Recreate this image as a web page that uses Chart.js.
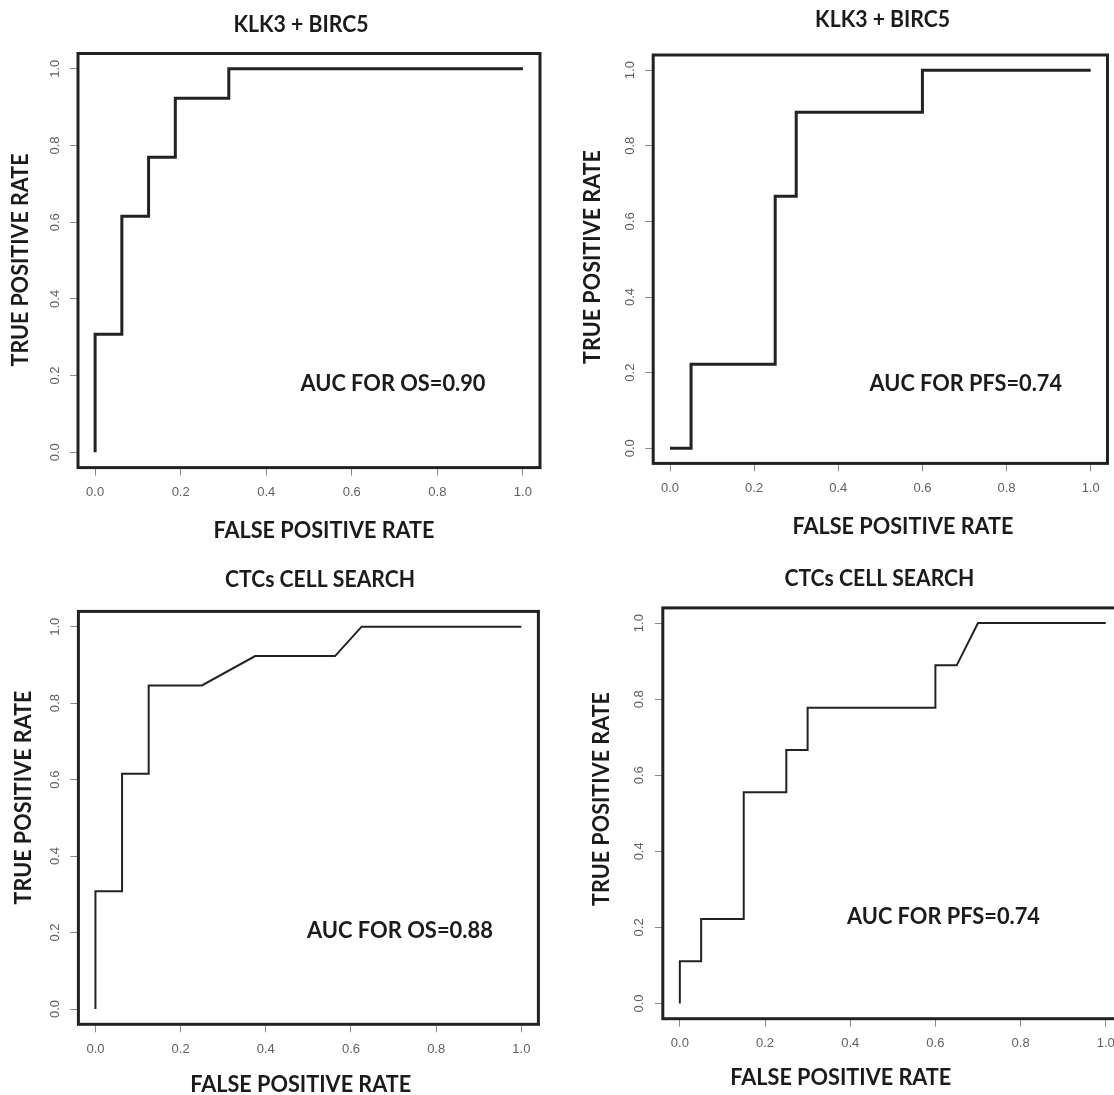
<!DOCTYPE html>
<html>
<head>
<meta charset="utf-8">
<script src="https://cdn.jsdelivr.net/npm/chart.js@4.4.0/dist/chart.umd.min.js"></script>
<style>
    html, body { margin: 0; padding: 0; background: #fff; overflow: hidden; width: 1114px; height: 1095px; }
    canvas { position: absolute; }
</style>
</head>
<body>
<canvas id="rocOsKlk" width="580" height="548"></canvas>
<canvas id="rocPfsKlk" width="580" height="548"></canvas>
<canvas id="rocOsCtc" width="580" height="548"></canvas>
<canvas id="rocPfsCtc" width="580" height="548"></canvas>
<script>
// Axis ticks shared by all four ROC plots
const tickValues = [0.0, 0.2, 0.4, 0.6, 0.8, 1.0];

// KLK3 + BIRC5, overall survival
const osKlkFpr = [0, 0, 0.0625, 0.0625, 0.125, 0.125, 0.1875, 0.1875, 0.3125, 0.3125, 1];
const osKlkTpr = [0, 0.3077, 0.3077, 0.6154, 0.6154, 0.7692, 0.7692, 0.9231, 0.9231, 1, 1];

// KLK3 + BIRC5, progression free survival
const pfsKlkFpr = [0, 0.05, 0.05, 0.25, 0.25, 0.3, 0.3, 0.6, 0.6, 1];
const pfsKlkTpr = [0, 0, 0.2222, 0.2222, 0.6667, 0.6667, 0.8889, 0.8889, 1, 1];

// CTCs CellSearch, overall survival
const osCtcFpr = [0, 0, 0.0625, 0.0625, 0.125, 0.125, 0.25, 0.375, 0.5625, 0.625, 1];
const osCtcTpr = [0, 0.3077, 0.3077, 0.6154, 0.6154, 0.8462, 0.8462, 0.9231, 0.9231, 1, 1];

// CTCs CellSearch, progression free survival
const pfsCtcFpr = [0, 0, 0.05, 0.05, 0.15, 0.15, 0.25, 0.25, 0.3, 0.3, 0.6, 0.6, 0.65, 0.7, 1];
const pfsCtcTpr = [0, 0.1111, 0.1111, 0.2222, 0.2222, 0.5556, 0.5556, 0.6667, 0.6667, 0.7778, 0.7778, 0.8889, 0.8889, 1, 1];

const panelTitles = ['KLK3 + BIRC5', 'KLK3 + BIRC5', 'CTCs CELL SEARCH', 'CTCs CELL SEARCH'];
const aucLabels = ['AUC FOR OS=0.90', 'AUC FOR PFS=0.74', 'AUC FOR OS=0.88', 'AUC FOR PFS=0.74'];
const xTitle = 'FALSE POSITIVE RATE';
const yTitle = 'TRUE POSITIVE RATE';

// layout of each panel, page coordinates (box = R plot region)
const panels = [
    { id: 'rocOsKlk', fpr: osKlkFpr, tpr: osKlkTpr, origin: [0, 0], lw: 3,
      box: { l: 78, t: 53.5, r: 540, b: 467.6 },
      title: [301, 25, 135], yt: [21, 260, 213], xt: [324, 530.5, 221], auc: [393, 384, 185] },
    { id: 'rocPfsKlk', fpr: pfsKlkFpr, tpr: pfsKlkTpr, origin: [557, 0], lw: 3,
      box: { l: 653.2, t: 55, r: 1107.5, b: 463.4 },
      title: [882.6, 20, 135], yt: [592.6, 257, 214], xt: [903, 527, 221], auc: [965.8, 384, 192.5] },
    { id: 'rocOsCtc', fpr: osCtcFpr, tpr: osCtcTpr, origin: [0, 547], lw: 2,
      box: { l: 78.4, t: 611.4, r: 538.4, b: 1024.3 },
      title: [320, 579.8, 190], yt: [24, 797.5, 214], xt: [300.7, 1085, 221], auc: [399.9, 931, 186] },
    { id: 'rocPfsCtc', fpr: pfsCtcFpr, tpr: pfsCtcTpr, origin: [557, 547], lw: 2,
      box: { l: 662.8, t: 607.9, r: 1122.8, b: 1018.7 },
      title: [879.4, 579, 190], yt: [601.5, 799, 214], xt: [840.8, 1077.5, 221], auc: [943.5, 917, 193] }
];

/**
 * Bold label squeezed to the reference width (Calibri is narrower than Lato)
 */
function drawLabel(ctx, text, cx, cy, width, angle) {
    ctx.save();
    ctx.font = '700 22px Lato';
    ctx.fillStyle = '#1b1b1b';
    ctx.textAlign = 'center';
    ctx.textBaseline = 'middle';
    ctx.translate(cx, cy);
    ctx.rotate(angle);
    ctx.scale(width / ctx.measureText(text).width, 1);
    ctx.fillText(text, 0, 0);
    ctx.restore();
}

// R style frame, tick labels and the text blocks
const rFrame = {
    id: 'rFrame',
    afterDraw(chart, args, opts) {
        const ctx = chart.ctx;
        const a = chart.chartArea;
        const p = opts.panel;
        const ox = p.origin[0], oy = p.origin[1];

        ctx.save();
        ctx.strokeStyle = '#222';
        ctx.lineWidth = 3;
        ctx.strokeRect(a.left, a.top, a.right - a.left, a.bottom - a.top);

        ctx.fillStyle = '#606060';
        ctx.font = '13px "Liberation Sans"';
        ctx.textAlign = 'center';
        ctx.textBaseline = 'middle';
        tickValues.forEach(v => {
            // x axis labels under the frame
            ctx.fillText(v.toFixed(1), chart.scales.x.getPixelForValue(v), a.bottom + 25);
            // y axis labels, rotated like R's default las = 0
            const py = chart.scales.y.getPixelForValue(v);
            ctx.save();
            ctx.translate(a.left - 23, py);
            ctx.rotate(-Math.PI / 2);
            ctx.fillText(v.toFixed(1), 0, 0);
            ctx.restore();
        });
        ctx.restore();

        drawLabel(ctx, opts.title, p.title[0] - ox, p.title[1] - oy, p.title[2], 0);
        drawLabel(ctx, yTitle, p.yt[0] - ox, p.yt[1] - oy, p.yt[2], -Math.PI / 2);
        drawLabel(ctx, xTitle, p.xt[0] - ox, p.xt[1] - oy, p.xt[2], 0);
        drawLabel(ctx, opts.auc, p.auc[0] - ox, p.auc[1] - oy, p.auc[2], 0);
    }
};

function axisOptions(pos) {
    return {
        type: 'linear',
        position: pos,
        min: -0.04,
        max: 1.04,
        afterBuildTicks: scale => { scale.ticks = tickValues.map(v => ({ value: v })); },
        afterFit: scale => {
            if (pos === 'bottom') scale.height = 0; else scale.width = 0;
        },
        border: { display: false },
        grid: { drawOnChartArea: false, drawTicks: true, tickLength: 8, color: '#8a8a8a', lineWidth: 1 },
        ticks: { display: false, autoSkip: false, maxRotation: 0 }
    };
}

function createRocChart(p, i) {
    const canvas = document.getElementById(p.id);
    canvas.style.left = p.origin[0] + 'px';
    canvas.style.top = p.origin[1] + 'px';

    const points = p.fpr.map((x, k) => ({ x: x, y: p.tpr[k] }));

    new Chart(canvas, {
        type: 'line',
        data: {
            datasets: [{
                data: points,
                borderColor: '#222',
                borderWidth: p.lw,
                pointRadius: 0,
                tension: 0,
                fill: false
            }]
        },
        options: {
            responsive: false,
            animation: false,
            events: [],
            layout: {
                padding: {
                    left: p.box.l - p.origin[0],
                    top: p.box.t - p.origin[1],
                    right: 580 - (p.box.r - p.origin[0]),
                    bottom: 548 - (p.box.b - p.origin[1])
                }
            },
            plugins: {
                legend: { display: false },
                tooltip: { enabled: false },
                rFrame: { panel: p, title: panelTitles[i], auc: aucLabels[i] }
            },
            scales: {
                x: axisOptions('bottom'),
                y: axisOptions('left')
            }
        },
        plugins: [rFrame]
    });
}

panels.forEach(createRocChart);
</script>
</body>
</html>
